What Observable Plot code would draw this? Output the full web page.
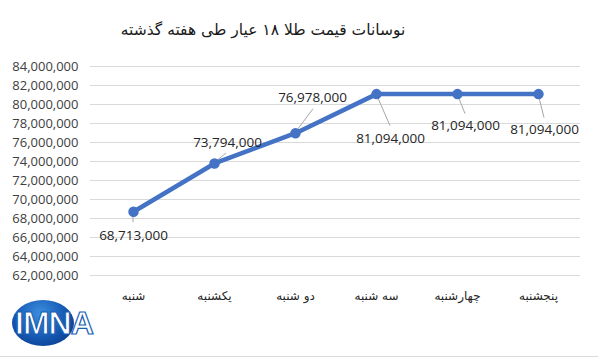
<!DOCTYPE html>
<html><head><meta charset="utf-8">
<script src="https://cdn.jsdelivr.net/npm/d3@7"></script>
<script src="https://cdn.jsdelivr.net/npm/@observablehq/plot@0.6"></script>
<style>
body{margin:0;background:#fff;}
#wrap{position:relative;width:598px;height:358px;overflow:hidden;background:#fff;}
#title{position:absolute;left:0;top:18px;width:526px;text-align:center;font-family:"DejaVu Sans";font-size:15.5px;line-height:24px;color:#1a1a1a;direction:rtl;}
#chart{position:absolute;left:0;top:50px;}
#logo{position:absolute;left:12px;top:300px;width:85px;height:48px;}
#logo .oval{position:absolute;left:0;top:0;width:62px;height:46px;border-radius:50%;background:radial-gradient(ellipse at 45% 30%,#3a8ee0 0%,#1456b0 55%,#0a2f7a 100%);}
#logo .txt{position:absolute;left:3px;top:5px;font-family:"Liberation Sans";font-weight:bold;font-size:32px;line-height:36px;letter-spacing:-1px;color:#fff;-webkit-text-stroke:1.2px #1a5fb4;}
#border{position:absolute;left:0;top:356px;width:598px;height:1px;background:#d9d9d9;}
</style></head>
<body>
<div id="wrap">
  <div id="title">نوسانات قیمت طلا ۱۸ عیار طی هفته گذشته</div>
  <div id="chart"></div>
  <div id="logo"><div class="oval"></div><div class="txt">IMNA</div></div>
  <div id="border"></div>
</div>
<script>
const days = ["شنبه", "یکشنبه", "دو شنبه", "سه شنبه", "چهارشنبه", "پنجشنبه"];
const prices = [68713000, 73794000, 76978000, 81094000, 81094000, 81094000];
const yTicks = [62000000, 64000000, 66000000, 68000000, 70000000, 72000000, 74000000, 76000000, 78000000, 80000000, 82000000, 84000000];

// label placement (pixels, relative to each point) — style only
const labelOffsets = [[0, 24], [13, -21], [17, -36], [14, 45], [8, 32], [6, 36]];
const leaderEnds = [[0, 11], [12, -10], [18, -24], [14, 32], [8, 20], [6, 24]];

const data = days.map((d, i) => ({day: d, price: prices[i], i}));
const fmt = d3.format(",");

const chart = Plot.plot({
  width: 598,
  height: 308,
  marginTop: 16,
  marginBottom: 83,
  marginLeft: 90,
  marginRight: 18,
  style: {fontFamily: "Open Sans", fontSize: "13px", background: "#fff", overflow: "visible"},
  x: {type: "point", domain: days, padding: 0.5},
  y: {domain: [62000000, 84000000]},
  marks: [
    Plot.gridY(yTicks, {stroke: "#d9d9d9", strokeOpacity: 1}),
    Plot.axisY(yTicks, {tickSize: 0, tickPadding: 12, tickFormat: fmt, fill: "#404040", fontSize: 13, label: null}),
    Plot.axisX({tickSize: 0, tickPadding: 16, fill: "#262626", fontFamily: "DejaVu Sans", fontSize: 12, label: null}),
    Plot.line(data, {x: "day", y: "price", stroke: "#4472C4", strokeWidth: 4.5, strokeLinejoin: "round"}),
    Plot.dot(data, {x: "day", y: "price", r: 4.5, fill: "#4472C4", stroke: "#4472C4"}),
    ...data.map((d, i) => Plot.text([d], {x: "day", y: "price", text: r => fmt(r.price), dx: labelOffsets[i][0], dy: labelOffsets[i][1], fill: "#262626", fontSize: 13.5, fontFamily: "Open Sans"}))
  ]
});
document.getElementById("chart").appendChild(chart);

// leader lines from each point, placed through the chart's own scales
const sx = chart.scale("x"), sy = chart.scale("y");
const lineG = chart.querySelector("g[aria-label='line']");
const g = document.createElementNS("http://www.w3.org/2000/svg", "g");
chart.insertBefore(g, lineG);
d3.select(g).selectAll("line").data(data).join("line")
  .attr("x1", d => sx.apply(d.day))
  .attr("y1", d => sy.apply(d.price))
  .attr("x2", d => sx.apply(d.day) + leaderEnds[d.i][0])
  .attr("y2", d => sy.apply(d.price) + leaderEnds[d.i][1])
  .attr("stroke", "#a6a6a6")
  .attr("stroke-width", 1);
</script>
</body></html>
